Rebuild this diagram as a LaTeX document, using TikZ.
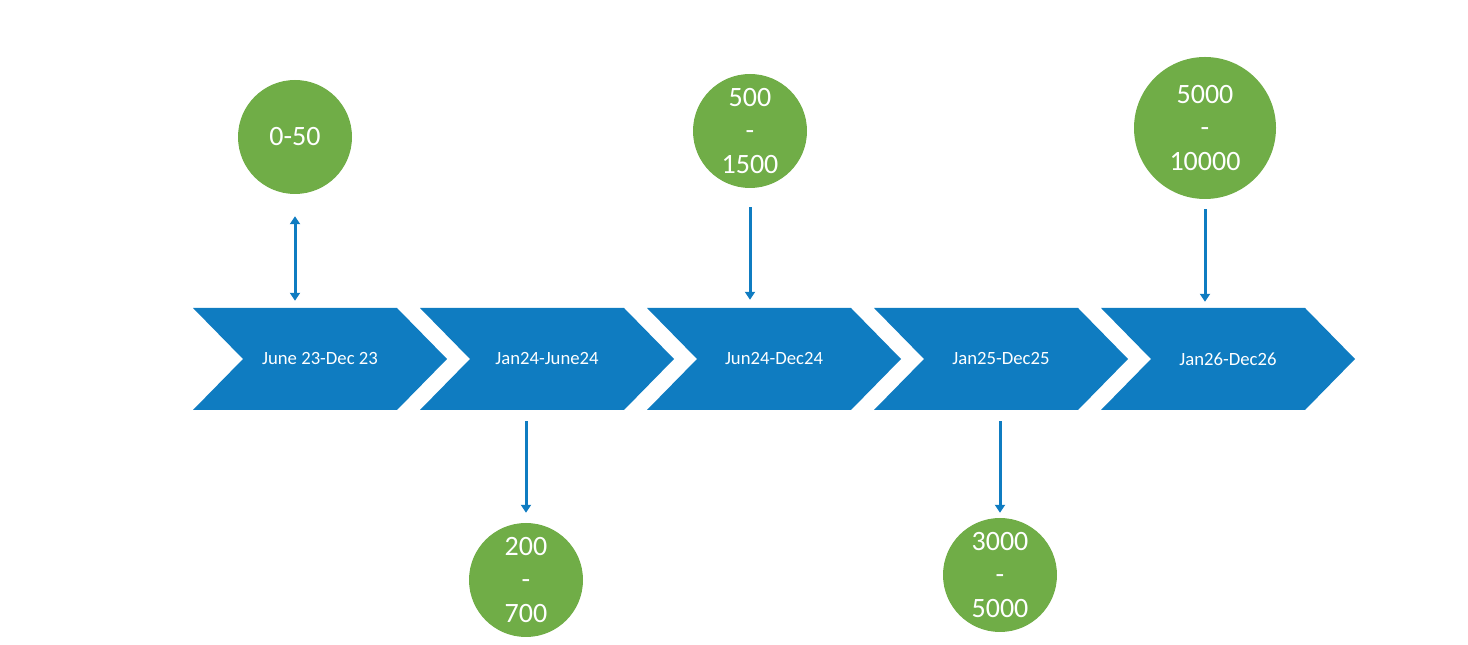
\documentclass[tikz,border=0pt]{standalone}
\usepackage{fontspec}
\setmainfont{Carlito}
\usetikzlibrary{arrows.meta}
\definecolor{chevblue}{HTML}{0F7CC1}
\definecolor{dotgreen}{HTML}{70AD47}
\tikzset{
  chev/.style={fill=chevblue},
  lbl/.style={inner sep=0, minimum width=254pt, minimum height=102pt, text=white, font=\fontsize{18.7}{22}\selectfont},
  dot/.style={circle, fill=dotgreen, inner sep=0, minimum size=114pt, text=white, align=center, font=\fontsize{28}{33.5}\selectfont},
  link/.style={draw=chevblue, line width=3pt, -{Triangle[width=10pt,length=8pt]}}
}
\begin{document}
\begin{tikzpicture}[x=1pt, y=1pt]
\useasboundingbox (0,0) rectangle (1468,645);
\fill[chev] (193,337) -- ++(204,0) -- ++(50,-51) -- ++(-50,-51) -- ++(-204,0) -- ++(50,51) -- cycle;
\fill[chev] (420,337) -- ++(204,0) -- ++(50,-51) -- ++(-50,-51) -- ++(-204,0) -- ++(50,51) -- cycle;
\fill[chev] (647,337) -- ++(204,0) -- ++(50,-51) -- ++(-50,-51) -- ++(-204,0) -- ++(50,51) -- cycle;
\fill[chev] (874,337) -- ++(204,0) -- ++(50,-51) -- ++(-50,-51) -- ++(-204,0) -- ++(50,51) -- cycle;
\fill[chev] (1101,337) -- ++(204,0) -- ++(50,-51) -- ++(-50,-51) -- ++(-204,0) -- ++(50,51) -- cycle;
\node[lbl] (ch1) at (320,286) {June 23-Dec 23};
\node[lbl] (ch2) at (547,286) {Jan24-June24};
\node[lbl] (ch3) at (774,286) {Jun24-Dec24};
\node[lbl] (ch4) at (1001,286) {Jan25-Dec25};
\node[lbl] (ch5) at (1228,286) {Jan26-Dec26};
\node[dot] (c1) at (295,508) {0-50};
\node[dot] (c2) at (526,65) {200\\-\\700};
\node[dot] (c3) at (750,514) {500\\-\\1500};
\node[dot] (c4) at (1000,70) {3000\\-\\5000};
\node[dot, minimum size=142pt] (c5) at (1205,517) {5000\\-\\10000};
\draw[link, {Triangle[width=10pt,length=8pt]}-{Triangle[width=10pt,length=8pt]}, shorten <=22pt, shorten >=7pt] (c1.south) -- (c1.south |- ch1.north);
\draw[link, shorten <=11pt, shorten >=10pt] (c2.north |- ch2.south) -- (c2.north);
\draw[link, shorten <=19pt, shorten >=8pt] (c3.south) -- (c3.south |- ch3.north);
\draw[link, shorten <=11pt, shorten >=5pt] (c4.north |- ch4.south) -- (c4.north);
\draw[link, shorten <=10pt, shorten >=6pt] (c5.south) -- (c5.south |- ch5.north);
\end{tikzpicture}
\end{document}
